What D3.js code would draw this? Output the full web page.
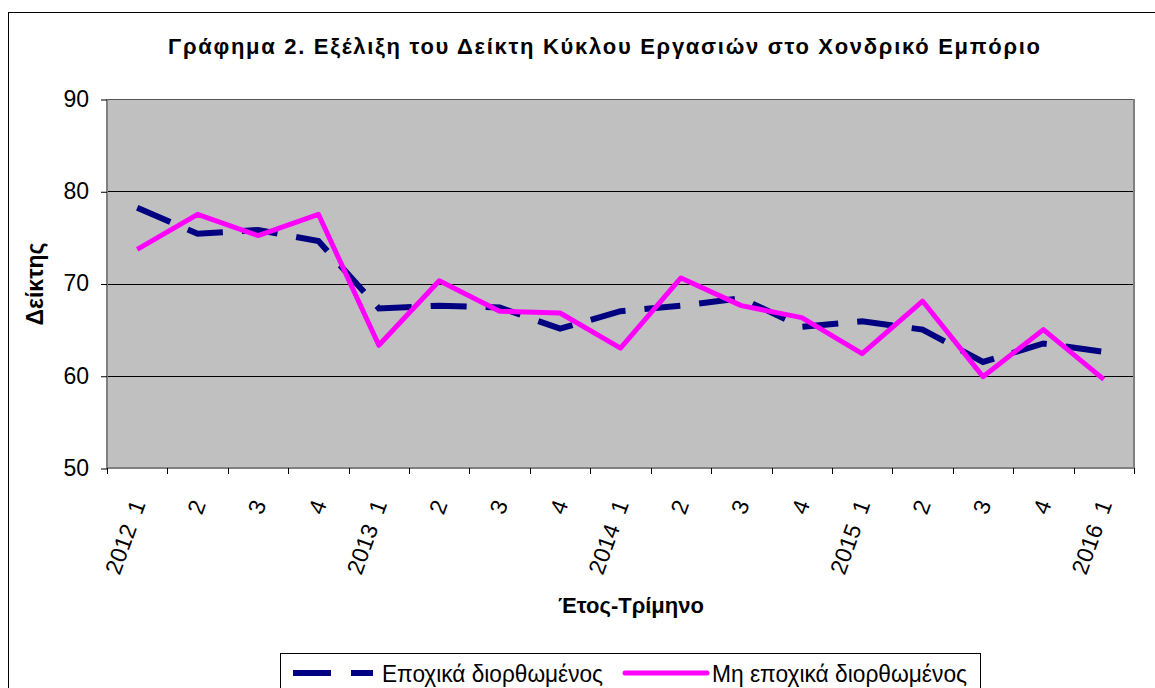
<!DOCTYPE html>
<meta charset="utf-8">
<title>Γράφημα 2</title>
<style>
  body { margin: 0; background: #fff; }
  svg text { font-family: "Liberation Sans", Arial, sans-serif; white-space: pre; }
</style>
<body>
<div class="chart"></div>
<script src="https://cdn.jsdelivr.net/npm/d3@7"></script>
<script>

// data

var years = ["2012", "", "", "", "2013", "", "", "", "2014", "", "", "", "2015", "", "", "", "2016"];
var quarters = ["1", "2", "3", "4", "1", "2", "3", "4", "1", "2", "3", "4", "1", "2", "3", "4", "1"];

var seasAdj = [78.2, 75.4, 75.8, 74.6, 67.3, 67.6, 67.4, 65.1, 67.0, 67.6, 68.4, 65.3, 65.9, 65.0, 61.5, 63.5, 62.6];
var nonSeasAdj = [73.7, 77.5, 75.2, 77.5, 63.3, 70.3, 67.0, 66.8, 63.0, 70.6, 67.6, 66.3, 62.4, 68.1, 59.9, 65.0, 59.6];

var yTicks = [50, 60, 70, 80, 90];

var title = "Γράφημα 2. Εξέλιξη του Δείκτη Κύκλου Εργασιών στο Χονδρικό Εμπόριο";
var yTitle = "Δείκτης";
var xTitle = "Έτος-Τρίμηνο";
var seriesNames = ["Εποχικά διορθωμένος", "Μη εποχικά διορθωμένος"];

var W = 1155, H = 688;
var plot = {left: 107, top: 99, right: 1134, bottom: 468};

var svg = d3.select(".chart").append("svg")
    .attr("width", W)
    .attr("height", H);

// outer chart frame (runs off the picture right and bottom)
svg.append("rect")
  .attr("x", 8.5).attr("y", 12.5)
  .attr("width", W).attr("height", H)
  .attr("fill", "#fff")
  .attr("stroke", "#000")
  .attr("stroke-width", 1);

svg.append("text")
  .attr("x", 604).attr("y", 54)
  .attr("text-anchor", "middle")
  .attr("font-size", 22).attr("font-weight", "bold")
  .attr("textLength", 872).attr("lengthAdjust", "spacing")
  .text(title);

var idx = d3.range(quarters.length);

var xscale = d3.scaleBand()
  .domain(idx)
  .range([plot.left, plot.right]);

var yscale = d3.scaleLinear()
  .domain([50, 90])
  .range([plot.bottom, plot.top]);

// plot background
svg.append("rect")
  .attr("x", plot.left).attr("y", plot.top)
  .attr("width", plot.right - plot.left)
  .attr("height", plot.bottom - plot.top)
  .attr("fill", "#c0c0c0");

// gridlines
svg.append("g")
  .selectAll("line")
  .data(yTicks.filter(function(d) { return d > 50; }))
  .enter().append("line")
  .attr("x1", plot.left).attr("x2", plot.right)
  .attr("y1", function(d) { return Math.round(yscale(d)) + 0.5; })
  .attr("y2", function(d) { return Math.round(yscale(d)) + 0.5; })
  .attr("stroke", function(d) { return d == 90 ? "#555" : "#000"; })
  .attr("stroke-width", 1);

// plot border
svg.append("path")
  .attr("d", "M" + plot.left + "," + plot.top + "V" + plot.bottom + "H" + plot.right + "V" + plot.top)
  .attr("fill", "none")
  .attr("stroke", "#808080")
  .attr("stroke-width", 2);

// y axis
var yaxis = d3.axisLeft(yscale)
  .tickValues(yTicks)
  .tickSize(6)
  .tickPadding(12);

var yg = svg.append("g")
  .attr("transform", "translate(" + plot.left + ",0)")
  .call(yaxis);
yg.select(".domain").remove();
yg.selectAll("line").attr("stroke", "#000").attr("transform", "translate(0,0.5)");
yg.selectAll("text")
  .attr("font-size", 23)
  .attr("font-family", "Liberation Sans, Arial, sans-serif")
  .attr("fill", "#000");

// x axis: ticks at band edges
var edges = d3.range(quarters.length + 1).map(function(i) {
  return plot.left + i * xscale.step();
});
svg.append("g")
  .selectAll("line")
  .data(edges)
  .enter().append("line")
  .attr("x1", function(d) { return Math.round(d) + 0.5; })
  .attr("x2", function(d) { return Math.round(d) + 0.5; })
  .attr("y1", plot.bottom).attr("y2", plot.bottom + 6)
  .attr("stroke", "#000");

svg.append("g")
  .selectAll("text")
  .data(idx)
  .enter().append("text")
  .attr("transform", function(i) {
    return "translate(" + (xscale(i) + xscale.bandwidth() / 2 + 1) + ",501) rotate(-70)";
  })
  .attr("text-anchor", "end")
  .attr("dy", "0.35em")
  .attr("font-size", 23)
  .text(function(i) { return years[i] ? years[i] + "  " + quarters[i] : quarters[i]; });

// axis titles
svg.append("text")
  .attr("x", 631).attr("y", 613)
  .attr("text-anchor", "middle")
  .attr("font-size", 22).attr("font-weight", "bold")
  .text(xTitle);

svg.append("text")
  .attr("transform", "translate(43,284) rotate(-90)")
  .attr("text-anchor", "middle")
  .attr("font-size", 23).attr("font-weight", "bold")
  .text(yTitle);

// lines
var line = d3.line()
  .x(function(d, i) { return xscale(i) + xscale.bandwidth() / 2; })
  .y(function(d) { return yscale(d); });

svg.append("path")
  .datum(seasAdj)
  .attr("d", line)
  .attr("fill", "none")
  .attr("stroke", "#000080")
  .attr("stroke-width", 6)
  .attr("stroke-dasharray", "36,19");

svg.append("path")
  .datum(nonSeasAdj)
  .attr("d", line)
  .attr("fill", "none")
  .attr("stroke", "#ff00ff")
  .attr("stroke-width", 5)
  .attr("stroke-linejoin", "round");

// legend
var lg = svg.append("g");
lg.append("rect")
  .attr("x", 280.5).attr("y", 653.5)
  .attr("width", 700).attr("height", 60)
  .attr("fill", "#fff")
  .attr("stroke", "#000");

lg.append("line")
  .attr("x1", 293).attr("x2", 373)
  .attr("y1", 673).attr("y2", 673)
  .attr("stroke", "#000080")
  .attr("stroke-width", 6)
  .attr("stroke-dasharray", "38,20");

lg.append("line")
  .attr("x1", 625).attr("x2", 707)
  .attr("y1", 673).attr("y2", 673)
  .attr("stroke", "#ff00ff")
  .attr("stroke-width", 5)
  .attr("stroke-linecap", "round");

lg.append("text")
  .attr("x", 382).attr("y", 682)
  .attr("font-size", 24)
  .attr("textLength", 221).attr("lengthAdjust", "spacingAndGlyphs")
  .text(seriesNames[0]);

lg.append("text")
  .attr("x", 712).attr("y", 682)
  .attr("font-size", 24)
  .attr("textLength", 255).attr("lengthAdjust", "spacingAndGlyphs")
  .text(seriesNames[1]);

</script>
</body>
